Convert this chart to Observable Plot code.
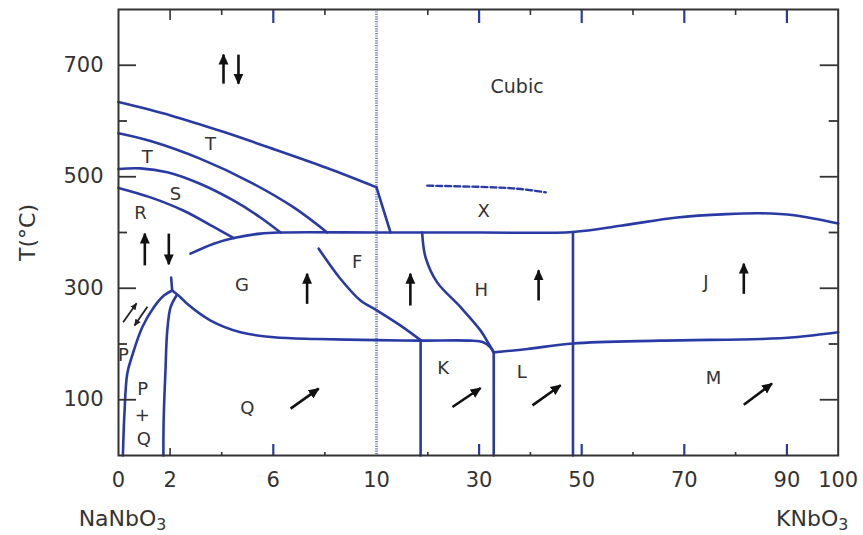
<!DOCTYPE html>
<html><head><meta charset="utf-8">
<script src="https://cdn.jsdelivr.net/npm/d3@7"></script>
<script src="https://cdn.jsdelivr.net/npm/@observablehq/plot@0.6"></script>
<style>
body{margin:0;background:#fff;}
#chart svg{display:block;}
</style></head><body><div id="chart"></div>
<script>
// ---- axis ticks ----
const xTickLabels = [0, 2, 6, 10, 30, 50, 70, 90, 100];
const yTickLabels = [100, 300, 500, 700];
const yMinorTicks = [200, 400, 600];
const xBlueTicks = [6, 30, 50, 70, 90];
const xBlackTicks = [2];
const xMinorTicks = [4, 8, 20, 40, 60, 80];
const dividerX = [10];

// ---- phase boundaries [x (mol% K), T (°C)] ----
const boundaryCubicT = [[0,634],[2.02,610],[4.03,581],[6.05,549],[8.06,516],[10,481]];
const boundaryCubicTKink = [[10,481],[12.73,400]];
const boundaryTT = [[0,578],[1.24,564],[3.18,532],[5.12,490],[6.79,445],[8.09,400]];
const boundaryTS = [[0,514],[0.85,515],[1.89,508],[3.18,487],[4.47,457],[5.5,427],[6.28,400]];
const boundarySR = [[0,480],[1.24,463],[2.53,439],[3.69,410],[4.47,390]];
const boundaryUpper = [[2.79,362],[3.69,380],[4.47,390],[5.5,398],[6.28,400],[10,400],[30,400],[48.3,401],[57.6,412],[68.6,427],[78.3,433],[84.8,434.5],[91.4,431],[100,416]];
const boundaryFG = [[7.76,371],[8.6,317],[9.38,278],[10.13,260],[14.7,233],[18.6,207]];
const boundaryGQ = [[2.08,296],[2.4,284],[2.66,272],[3.57,242],[4.73,221],[6.02,212],[7.7,209],[10,207],[18.6,206],[28.3,206],[30.8,203],[32.2,194],[32.85,185]];
const boundaryFH = [[18.9,400],[19.55,356],[21.8,311],[26.4,266],[30.3,224],[31.9,200],[32.85,185]];
const boundaryLM = [[32.85,185],[39.4,191],[48.3,201],[65.4,206],[84.9,209],[91.4,212],[100,221]];
const boundaryP = [[0.17,0],[0.23,75],[0.34,147],[0.53,179],[0.92,230],[1.37,266],[1.76,287],[2.08,296]];
const boundaryQ = [[1.74,0],[1.75,63],[1.82,152],[1.89,224],[2.02,266],[2.25,287]];
const cuspTick = [[2.04,319],[2.08,296]];
const boundaryK = [[18.6,206],[18.6,0]];
const boundaryKL = [[32.85,185],[32.85,0]];
const boundaryHJ = [[48.3,401],[48.3,0]];
const boundaryXDashed = [[19.9,484],[32.9,481],[38.1,478],[43,472]];

// ---- labels [text, x, T] ----
const regionLabels = [["T",3.57,559],["T",1.11,535],["S",2.21,469],["R",0.85,434],["F",9.25,347],["G",4.79,305],["X",30.9,438],["H",30.4,297],["K",23,156],["L",38.3,149],["J",74.2,311],["M",75.7,138],["Q",4.99,84],["P",0.19,179],["P",0.94,118],["+",0.92,73],["Q",0.98,30]];
const cubicLabel = [["Cubic",37.4,661]];

// ---- polarization arrows [x1, T1, x2, T2] (head at 2) ----
const arrowsBig = [
  [4.07,667,4.07,719],[4.65,719,4.65,667],
  [1.02,341,1.02,398],[1.95,398,1.95,343],
  [7.31,272,7.31,326],[16.6,269,16.6,326],[41.6,278,41.6,332],[81.6,290,81.6,344],
  [6.67,84,7.76,120],[24.8,87,30.3,121],[40.4,90,45.9,126],[81.6,91,87.1,129]
];
const arrowsSmall = [[0.18,239,0.70,273],[1.12,267,0.62,233]];

const W = 863, H = 535;
const mL = 118, mR = 25.3, mT = 9, mB = 80;
const plotW = W - mL - mR, plotH = H - mT - mB;
const blue = "#2a3aa5";
const ink = "#333";
const bigInk = "#111111";
const smallInk = "#222222";

const boundaries = {boundaryCubicT, boundaryCubicTKink, boundaryTT, boundaryTS, boundarySR, boundaryUpper,
  boundaryFG, boundaryGQ, boundaryFH, boundaryLM, boundaryP, boundaryQ, cuspTick, boundaryK, boundaryKL, boundaryHJ};
const lines = [];
for (const [id, pts] of Object.entries(boundaries)) pts.forEach(([x, y]) => lines.push({id, x, y}));

const svg = Plot.plot({
  width: W, height: H,
  marginLeft: mL, marginRight: mR, marginTop: mT, marginBottom: mB,
  style: {fontFamily: "'DejaVu Sans', sans-serif", background: "#fff", color: ink},
  x: {type: "linear", domain: [0, 10, 100], range: [mL, 376, W - mR]},
  y: {domain: [0, 800]},
  marks: [
    Plot.ruleX(dividerX, {stroke: "#7585d6", strokeWidth: 2.8, strokeDasharray: "1.2,1.2"}),
    Plot.line(lines, {x: "x", y: "y", z: "id", stroke: blue, strokeWidth: 2.6, curve: "catmull-rom"}),
    Plot.line(boundaryXDashed, {x: d => d[0], y: d => d[1], stroke: blue, strokeWidth: 2.4, strokeDasharray: "6,3", curve: "catmull-rom"}),
    // bottom ticks
    Plot.ruleX(xBlueTicks, {stroke: blue, strokeWidth: 2.2, insetTop: plotH - 11}),
    Plot.ruleX(xBlackTicks, {stroke: ink, strokeWidth: 1.6, insetTop: plotH - 7}),
    Plot.ruleX(xMinorTicks, {stroke: ink, strokeWidth: 1.6, insetTop: plotH - 3}),
    // top ticks
    Plot.ruleX(xBlueTicks, {stroke: blue, strokeWidth: 2.2, insetBottom: plotH - 14}),
    Plot.ruleX(xBlackTicks, {stroke: ink, strokeWidth: 1.6, insetBottom: plotH - 11}),
    Plot.ruleX(xMinorTicks, {stroke: ink, strokeWidth: 1.6, insetBottom: plotH - 6}),
    // y ticks
    Plot.ruleY(yTickLabels, {stroke: ink, strokeWidth: 1.8, insetRight: plotW - 18}),
    Plot.ruleY(yMinorTicks, {stroke: ink, strokeWidth: 1.8, insetRight: plotW - 9}),
    Plot.ruleY(yTickLabels, {stroke: ink, strokeWidth: 1.8, insetLeft: plotW - 18}),
    Plot.ruleY(yMinorTicks, {stroke: ink, strokeWidth: 1.8, insetLeft: plotW - 9}),
    Plot.text(regionLabels, {x: d => d[1], y: d => d[2], text: d => d[0], fontSize: 18, fill: ink}),
    Plot.text(cubicLabel, {x: d => d[1], y: d => d[2], text: d => d[0], fontSize: 19, fill: ink}),
    Plot.frame({stroke: ink, strokeWidth: 2}),
    Plot.link(arrowsBig, {x1: d => d[0], y1: d => d[1], x2: d => d[2], y2: d => d[3], stroke: bigInk, strokeWidth: 2.6}),
    Plot.link(arrowsSmall, {x1: d => d[0], y1: d => d[1], x2: d => d[2], y2: d => d[3], stroke: smallInk, strokeWidth: 1.8}),
    Plot.axisX({ticks: xTickLabels, tickSize: 0, tickPadding: 17, fontSize: 21, label: null, tickFormat: d => String(d)}),
    Plot.axisY({ticks: yTickLabels, tickSize: 0, tickPadding: 15, fontSize: 21, label: null, tickFormat: d => String(d)}),
    Plot.text(["T(°C)"], {text: d => d, frameAnchor: "left", textAnchor: "middle", lineAnchor: "middle", rotate: -90, dx: -91, fontSize: 22, fill: ink}),
    Plot.text(["NaNbO3"], {x: () => 0, text: d => d, frameAnchor: "bottom", textAnchor: "middle", lineAnchor: "middle", dy: 63, dx: 4, fontSize: 22, fill: ink}),
    Plot.text(["KNbO3"], {x: () => 100, text: d => d, frameAnchor: "bottom", textAnchor: "middle", lineAnchor: "middle", dy: 63, dx: -26, fontSize: 22, fill: ink})
  ]
});

// arrowheads
const s = d3.select(svg);
const defs = s.insert("defs", ":first-child");
function head(id, size, color) {
  defs.append("marker").attr("id", id).attr("viewBox", "0 -5 10 10").attr("refX", 9).attr("refY", 0)
    .attr("markerUnits", "userSpaceOnUse").attr("markerWidth", size).attr("markerHeight", size)
    .attr("orient", "auto").append("path").attr("d", "M0,-4.5L10,0L0,4.5Z").attr("fill", color);
}
head("ahBig", 11, bigInk);
head("ahSmall", 7, smallInk);
s.selectAll("g").each(function () {
  const st = this.getAttribute("stroke");
  if (st === bigInk) d3.select(this).selectAll("path").attr("marker-end", "url(#ahBig)");
  if (st === smallInk) d3.select(this).selectAll("path").attr("marker-end", "url(#ahSmall)");
});
// subscripts
s.selectAll("text").each(function () {
  const t = this.textContent;
  if (t === "NaNbO3" || t === "KNbO3") {
    this.textContent = "";
    const sel = d3.select(this);
    sel.append("tspan").text(t.slice(0, -1));
    sel.append("tspan").attr("dy", "0.3em").attr("font-size", "0.72em").text("3");
  }
});
document.getElementById("chart").appendChild(svg);
</script></body></html>
